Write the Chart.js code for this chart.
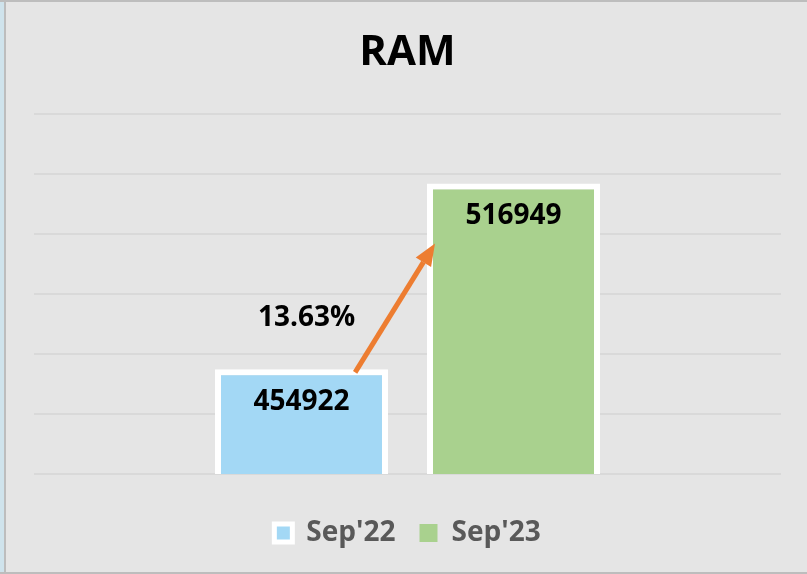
<!DOCTYPE html>
<html>
<head>
<meta charset="utf-8">
<script src="https://cdn.jsdelivr.net/npm/chart.js@4"></script>
<style>
  html, body { margin: 0; padding: 0; background: #e5e5e5; }
  #wrap { width: 807px; height: 574px; position: relative; }
</style>
</head>
<body>
<div id="wrap"><canvas id="chartRam" width="807" height="574"></canvas></div>
<script>
const CATEGORIES = ['RAM'];
const SERIES = ["Sep'22", "Sep'23"];
const VALUES = [454922, 516949];
const COLORS = ['#a3d8f5', '#a9d18e'];
const Y_TICKS = { min: 420000, max: 540000, step: 20000 };

const FONT = '"Open Sans", "Noto Sans", sans-serif';
const ORANGE = '#ed7d31';
const GRID = '#d9d9d9';

const pct = ((VALUES[1] - VALUES[0]) / VALUES[0] * 100).toFixed(2) + '%';

// background + frame lines
const frame = {
  id: 'frame',
  beforeDraw(chart) {
    const { ctx, width, height } = chart;
    ctx.save();
    ctx.fillStyle = '#e5e5e5';
    ctx.fillRect(0, 0, width, height);
    ctx.fillStyle = '#cfe3ec';
    ctx.fillRect(0, 0, 4, height);
    ctx.fillStyle = '#bdbdbd';
    ctx.fillRect(4, 0, 2, height);
    ctx.fillRect(0, 0, width, 2);
    ctx.fillRect(0, height - 2, width, 2);
    ctx.restore();
  }
};

// value labels inside bars, plus growth arrow
const labels = {
  id: 'labels',
  afterDatasetsDraw(chart) {
    const { ctx } = chart;
    const b1 = chart.getDatasetMeta(0).data[0];
    const b2 = chart.getDatasetMeta(1).data[0];
    ctx.save();
    ctx.font = 'bold 28px ' + FONT;
    ctx.fillStyle = '#000';
    ctx.textAlign = 'center';
    ctx.textBaseline = 'middle';
    [b1, b2].forEach((b, i) => ctx.fillText(String(VALUES[i]), b.x, b.y + 33));

    // arrow
    const sx = b1.x + b1.width * 0.31, sy = b1.y + 3;
    const ex = b2.x - b2.width / 2 + 8, ey = b2.y + 60;
    const ang = Math.atan2(ey - sy, ex - sx);
    const hl = 22, hw = 9;
    const bx = ex - hl * Math.cos(ang), by = ey - hl * Math.sin(ang);
    ctx.strokeStyle = ORANGE;
    ctx.fillStyle = ORANGE;
    ctx.lineWidth = 5;
    ctx.beginPath();
    ctx.moveTo(sx, sy);
    ctx.lineTo(bx, by);
    ctx.stroke();
    ctx.beginPath();
    ctx.moveTo(ex, ey);
    ctx.lineTo(bx + hw * Math.sin(ang), by - hw * Math.cos(ang));
    ctx.lineTo(bx - hw * Math.sin(ang), by + hw * Math.cos(ang));
    ctx.closePath();
    ctx.fill();

    ctx.fillStyle = '#000';
    ctx.fillText(pct, b1.x + 5, (sy + ey) / 2 + 10);
    ctx.restore();
  }
};

new Chart(document.getElementById('chartRam'), {
  type: 'bar',
  data: {
    labels: CATEGORIES,
    datasets: SERIES.map((name, i) => ({
      label: name,
      data: [VALUES[i]],
      backgroundColor: COLORS[i],
      borderColor: '#ffffff',
      borderWidth: 6,
      borderSkipped: false,
      categoryPercentage: 0.5676,
      barPercentage: 0.816
    }))
  },
  options: {
    responsive: false,
    animation: false,
    layout: { padding: { left: 34, right: 26, top: 0, bottom: 17 } },
    plugins: {
      tooltip: { enabled: false },
      title: {
        display: true,
        text: 'RAM',
        color: '#000',
        font: { family: FONT, size: 42, weight: 'bold' },
        padding: { top: 28, bottom: 36 }
      },
      legend: {
        position: 'bottom',
        labels: {
          color: '#595959',
          font: { family: FONT, size: 28, weight: 'bold' },
          boxWidth: 18,
          boxHeight: 18,
          padding: 24,
          generateLabels(chart) {
            return chart.data.datasets.map((ds, i) => ({
              text: ds.label,
              fillStyle: ds.backgroundColor,
              strokeStyle: '#ffffff',
              lineWidth: i === 0 ? 5 : 0,
              fontColor: '#595959',
              datasetIndex: i,
              hidden: false
            }));
          }
        }
      }
    },
    scales: {
      x: {
        ticks: { display: false },
        grid: { display: false },
        border: { display: false },
        afterFit(s) { s.height = 21; }
      },
      y: {
        min: Y_TICKS.min,
        max: Y_TICKS.max,
        ticks: { display: false, stepSize: Y_TICKS.step },
        grid: { color: GRID, lineWidth: 2, drawTicks: false },
        border: { display: false },
        afterFit(s) { s.width = 0; }
      }
    }
  },
  plugins: [frame, labels]
});
</script>
</body>
</html>
